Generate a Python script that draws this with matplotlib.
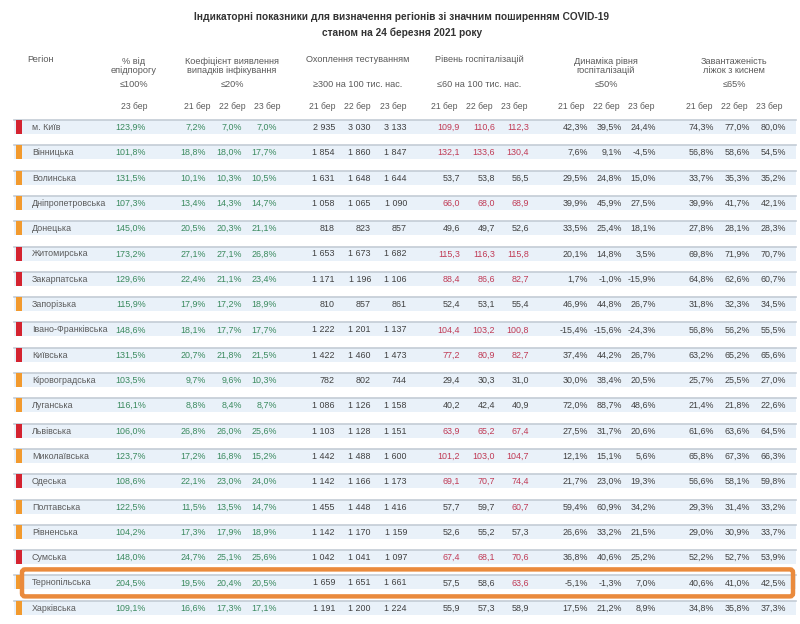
import matplotlib.pyplot as plt
from matplotlib.patches import Rectangle, FancyBboxPatch

# Дані таблиці (станом на 24 березня 2021)
regions = ["м. Київ", "Вінницька", "Волинська", "Дніпропетровська", "Донецька",
           "Житомирська", "Закарпатська", "Запорізька", "Івано-Франківська", "Київська",
           "Кіровоградська", "Луганська", "Львівська", "Миколаївська", "Одеська",
           "Полтавська", "Рівненська", "Сумська", "Тернопільська", "Харківська"]
zone = ["red", "orange", "orange", "orange", "orange", "red", "red", "orange", "red", "red",
        "orange", "orange", "red", "orange", "red", "orange", "orange", "red", "orange", "orange"]
epi_pct = [123.9, 101.8, 131.5, 107.3, 145.0, 173.2, 129.6, 115.9, 148.6, 131.5,
           103.5, 116.1, 106.0, 123.7, 108.6, 122.5, 104.2, 148.0, 204.5, 109.1]
detection = [(7.2, 7.0, 7.0), (18.8, 18.0, 17.7), (10.1, 10.3, 10.5), (13.4, 14.3, 14.7),
             (20.5, 20.3, 21.1), (27.1, 27.1, 26.8), (22.4, 21.1, 23.4), (17.9, 17.2, 18.9),
             (18.1, 17.7, 17.7), (20.7, 21.8, 21.5), (9.7, 9.6, 10.3), (8.8, 8.4, 8.7),
             (26.8, 26.0, 25.6), (17.2, 16.8, 15.2), (22.1, 23.0, 24.0), (11.5, 13.5, 14.7),
             (17.3, 17.9, 18.9), (24.7, 25.1, 25.6), (19.5, 20.4, 20.5), (16.6, 17.3, 17.1)]
testing = [(2935, 3030, 3133), (1854, 1860, 1847), (1631, 1648, 1644), (1058, 1065, 1090),
           (818, 823, 857), (1653, 1673, 1682), (1171, 1196, 1106), (810, 857, 861),
           (1222, 1201, 1137), (1422, 1460, 1473), (782, 802, 744), (1086, 1126, 1158),
           (1103, 1128, 1151), (1442, 1488, 1600), (1142, 1166, 1173), (1455, 1448, 1416),
           (1142, 1170, 1159), (1042, 1041, 1097), (1659, 1651, 1661), (1191, 1200, 1224)]
hospital = [(109.9, 110.6, 112.3), (132.1, 133.6, 130.4), (53.7, 53.8, 56.5), (66.0, 68.0, 68.9),
            (49.6, 49.7, 52.6), (115.3, 116.3, 115.8), (88.4, 86.6, 82.7), (52.4, 53.1, 55.4),
            (104.4, 103.2, 100.8), (77.2, 80.9, 82.7), (29.4, 30.3, 31.0), (40.2, 42.4, 40.9),
            (63.9, 65.2, 67.4), (101.2, 103.0, 104.7), (69.1, 70.7, 74.4), (57.7, 59.7, 60.7),
            (52.6, 55.2, 57.3), (67.4, 68.1, 70.6), (57.5, 58.6, 63.6), (55.9, 57.3, 58.9)]
dynamics = [(42.3, 39.5, 24.4), (7.6, 9.1, -4.5), (29.5, 24.8, 15.0), (39.9, 45.9, 27.5),
            (33.5, 25.4, 18.1), (20.1, 14.8, 3.5), (1.7, -1.0, -15.9), (46.9, 44.8, 26.7),
            (-15.4, -15.6, -24.3), (37.4, 44.2, 26.7), (30.0, 38.4, 20.5), (72.0, 88.7, 48.6),
            (27.5, 31.7, 20.6), (12.1, 15.1, 5.6), (21.7, 23.0, 19.3), (59.4, 60.9, 34.2),
            (26.6, 33.2, 21.5), (36.8, 40.6, 25.2), (-5.1, -1.3, 7.0), (17.5, 21.2, 8.9)]
oxygen = [(74.3, 77.0, 80.0), (56.8, 58.6, 54.5), (33.7, 35.3, 35.2), (39.9, 41.7, 42.1),
          (27.8, 28.1, 28.3), (69.8, 71.9, 70.7), (64.8, 62.6, 60.7), (31.8, 32.3, 34.5),
          (56.8, 56.2, 55.5), (63.2, 65.2, 65.6), (25.7, 25.5, 27.0), (21.4, 21.8, 22.6),
          (61.6, 63.6, 64.5), (65.8, 67.3, 66.3), (56.6, 58.1, 59.8), (29.3, 31.4, 33.2),
          (29.0, 30.9, 33.7), (52.2, 52.7, 53.9), (40.6, 41.0, 42.5), (34.8, 35.8, 37.3)]
dates = ["21 бер", "22 бер", "23 бер"]
highlight = "Тернопільська"
hosp_limit = 60

plt.rcParams['font.family'] = ['Liberation Sans', 'DejaVu Sans']
NARROW = ['Liberation Sans Narrow', 'Liberation Sans', 'DejaVu Sans']

GREEN = "#3a8a5e"
DARK = "#404040"
GREY = "#5a5a5a"
PINK = "#c03a55"
zone_colors = {"red": "#d42330", "orange": "#f29a2e"}


def pct(v):
    return f"{v:.1f}".replace(".", ",") + "%"


def dec(v):
    return f"{v:.1f}".replace(".", ",")


def thous(v):
    return f"{v:,}".replace(",", " ")


fig = plt.figure(figsize=(8, 6.24), dpi=100)
ax = fig.add_axes([0, 0, 1, 1])
ax.set_xlim(0, 800)
ax.set_ylim(624, 0)
ax.axis("off")

fs = 6.4
hfs = 6.6
off = 3.0  # зсув базової лінії, щоб текст стояв по центру рядка


def cell(x, y, s, ha="right", color=DARK, size=fs, family=NARROW):
    ax.text(x, y + off, s, ha=ha, va="baseline", fontsize=size, color=color, family=family)


ax.text(402, 17, "Індикаторні показники для визначення регіонів зі значним поширенням COVID-19",
        ha="center", va="center", fontsize=7.3, fontweight="bold", color="#333333")
ax.text(402, 33, "станом на 24 березня 2021 року",
        ha="center", va="center", fontsize=7.3, fontweight="bold", color="#333333")

# заголовки колонок
groups = [
    ("% від\nепідпорогу", "≤100%", [134]),
    ("Коефіцієнт виявлення\nвипадків інфікування", "≤20%", [197, 232, 267]),
    ("Охоплення тестуванням", "≥300 на 100 тис. нас.", [322, 357, 393]),
    ("Рівень госпіталізацій", "≤60 на 100 тис. нас.", [444, 479, 514]),
    ("Динаміка рівня\nгоспіталізацій", "≤50%", [571, 606, 641]),
    ("Завантаженість\nліжок з киснем", "≤65%", [699, 734, 769]),
]
ax.text(41, 60, "Регіон", ha="center", va="center", fontsize=hfs, color=GREY)
for title, limit, xs in groups:
    cx = sum(xs) / len(xs)
    ax.text(cx, 66 if "\n" in title else 60, title, ha="center", va="center",
            fontsize=hfs, color=GREY, linespacing=1.1)
    cell(cx, 84, limit, ha="center", color=GREY, size=hfs, family=None)
    labels = dates[-len(xs):]
    for x, lab in zip(xs, labels):
        cell(x, 106, lab, ha="center", color=GREY, size=hfs - 0.4, family=None)

y0, dy = 127, 25.3
for i, reg in enumerate(regions):
    y = y0 + i * dy
    ax.add_patch(Rectangle((14, y - 7), 782, 14, facecolor="#e9f1f9", edgecolor="none", zorder=0))
    ax.plot([14, 796], [y - 7, y - 7], color="#c3ccd6", lw=1.2, zorder=1)
    ax.add_patch(Rectangle((16, y - 7), 6, 14, facecolor=zone_colors[zone[i]], edgecolor="none", zorder=2))
    cell(32, y, reg, ha="left", color=GREY, size=6.4, family=None)
    cell(146, y, pct(epi_pct[i]), color=GREEN)
    for x, v in zip([206, 242, 277], detection[i]):
        cell(x, y, pct(v), color=GREEN)
    for x, v in zip([335, 371, 407], testing[i]):
        cell(x, y, thous(v))
    for x, v in zip([460, 495, 529], hospital[i]):
        cell(x, y, dec(v), color=PINK if v > hosp_limit else DARK)
    for x, v in zip([588, 622, 656], dynamics[i]):
        cell(x, y, pct(v))
    for x, v in zip([714, 750, 786], oxygen[i]):
        cell(x, y, pct(v))

    if reg == highlight:
        ax.add_patch(FancyBboxPatch((22, y - 13), 771, 27, boxstyle="round,pad=0,rounding_size=3",
                                    facecolor="none", edgecolor="#ea8a3c", lw=3.2, zorder=3))

fig.savefig("out.png", dpi=100)
